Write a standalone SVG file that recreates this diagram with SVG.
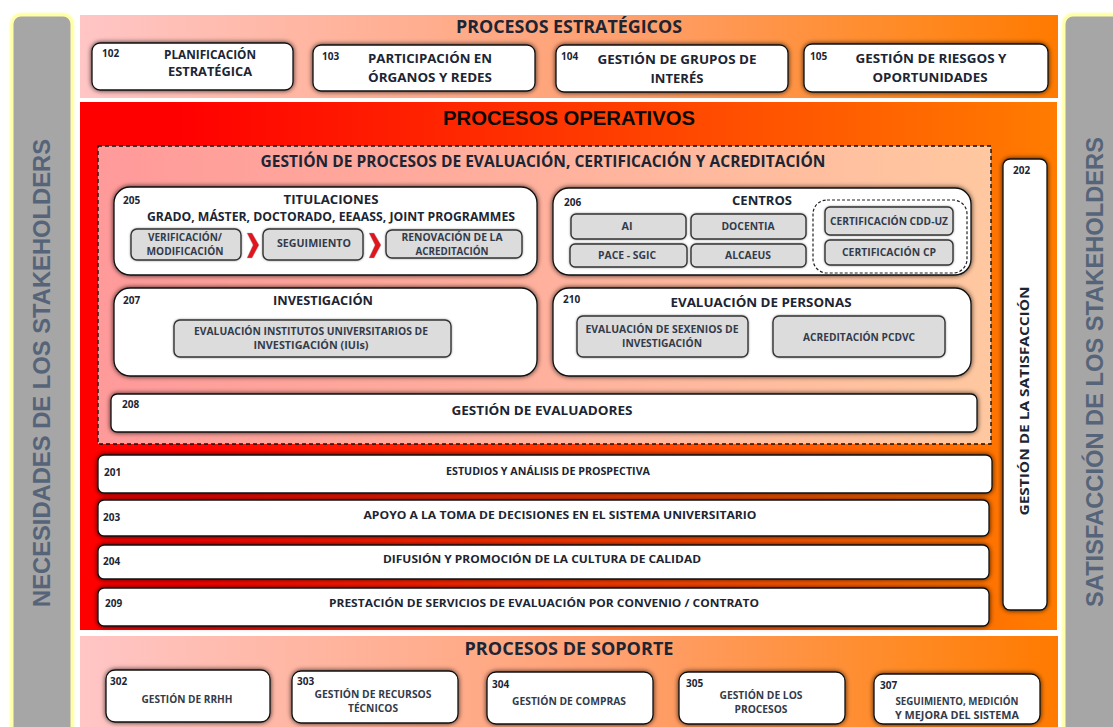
<svg xmlns="http://www.w3.org/2000/svg" width="1113" height="727" viewBox="0 0 1113 727">
<style>
text{font-family:"Open Sans","Noto Sans","Liberation Sans",sans-serif;font-weight:700;fill:#1c2533;text-anchor:middle}
.n{font-size:10px;font-weight:700;text-anchor:start;fill:#1c2533}
.t1{font-size:13px}
.t2{font-size:11px}
.t3{font-size:10px;font-weight:700;fill:#333b4a}
.h{font-size:17px}
.a{font-family:"Liberation Sans",Arial,sans-serif;font-weight:700;fill:#0a0a0a}
.box{fill:#fff;stroke:#111;stroke-width:1.3;filter:url(#sh)}
.sub{fill:#dcdcdc;stroke:#333;stroke-width:1.4;filter:url(#sh2)}
.side{fill:#a6a6a6;stroke:#ffffa8;stroke-width:3;filter:url(#glow)}
.sidet{font-family:"Liberation Sans",Arial,sans-serif;font-weight:700;font-size:24px;fill:#566479}
.chev{fill:#e0161c;stroke:#a8b0c0;stroke-width:.4}
</style>
<defs>
<linearGradient id="gs"><stop offset="0" stop-color="#ffc6c6"/><stop offset=".55" stop-color="#ffa070"/><stop offset=".85" stop-color="#ff8a24"/><stop offset="1" stop-color="#ff7a00"/></linearGradient>
<linearGradient id="go"><stop offset="0" stop-color="#ff0000"/><stop offset=".1" stop-color="#ff0000"/><stop offset="1" stop-color="#ff7c00"/></linearGradient>
<linearGradient id="gi"><stop offset="0" stop-color="#ff9a9a"/><stop offset="1" stop-color="#ffc8a0"/></linearGradient>
<filter id="sh" x="-10%" y="-20%" width="120%" height="140%"><feDropShadow dx="0" dy="0" stdDeviation="2.6" flood-color="#000" flood-opacity=".8"/></filter>
<filter id="sh2" x="-10%" y="-20%" width="120%" height="140%"><feDropShadow dx="0" dy="0" stdDeviation=".8" flood-color="#000" flood-opacity=".4"/></filter>
<filter id="glow" x="-30%" y="-5%" width="160%" height="110%"><feDropShadow dx="0" dy="0" stdDeviation="1.5" flood-color="#ffff80" flood-opacity=".9"/></filter>
</defs>
<rect width="1113" height="727" fill="#fff"/>

<g id="side-left"><rect class="side" x="12" y="15" width="60" height="730" rx="9"/>
<text class="sidet" transform="translate(50,373) rotate(-90)" textLength="468" lengthAdjust="spacingAndGlyphs">NECESIDADES DE LOS STAKEHOLDERS</text></g>
<g id="side-right"><rect class="side" x="1064" y="15" width="60" height="730" rx="9"/>
<text class="sidet" transform="translate(1103,372) rotate(-90)" textLength="470" lengthAdjust="spacingAndGlyphs">SATISFACCIÓN DE LOS STAKEHOLDERS</text></g>

<g id="band-estrategicos"><rect x="80" y="15" width="978" height="83" fill="url(#gs)"/>
<text class="h" x="569" y="33" textLength="226" lengthAdjust="spacingAndGlyphs">PROCESOS ESTRATÉGICOS</text></g>
<g id="band-operativos"><rect x="80" y="102" width="977" height="528" fill="url(#go)"/>
<text class="a" x="569" y="125" font-size="20" textLength="252" lengthAdjust="spacingAndGlyphs">PROCESOS OPERATIVOS</text></g>
<g id="band-soporte"><rect x="80" y="636" width="978" height="91" fill="url(#gs)"/>
<text class="h" x="569" y="655" textLength="209" lengthAdjust="spacingAndGlyphs">PROCESOS DE SOPORTE</text></g>

<g id="n102"><rect class="box" x="92" y="43" width="201" height="47" rx="8"/><text class="n" x="102" y="57">102</text>
<text class="t1" x="210" y="59" textLength="92" lengthAdjust="spacingAndGlyphs">PLANIFICACIÓN</text><text class="t1" x="210" y="76" textLength="84" lengthAdjust="spacingAndGlyphs">ESTRATÉGICA</text></g>
<g id="n103"><rect class="box" x="313" y="45" width="222" height="46" rx="8"/><text class="n" x="322" y="60">103</text>
<text class="t1" x="430" y="63" textLength="124" lengthAdjust="spacingAndGlyphs">PARTICIPACIÓN EN</text><text class="t1" x="430" y="82" textLength="124" lengthAdjust="spacingAndGlyphs">ÓRGANOS Y REDES</text></g>
<g id="n104"><rect class="box" x="556" y="45" width="232" height="47" rx="8"/><text class="n" x="561" y="60">104</text>
<text class="t1" x="677" y="64" textLength="159" lengthAdjust="spacingAndGlyphs">GESTIÓN  DE GRUPOS DE</text><text class="t1" x="677" y="83" textLength="53" lengthAdjust="spacingAndGlyphs">INTERÉS</text></g>
<g id="n105"><rect class="box" x="804" y="44" width="244" height="48" rx="8"/><text class="n" x="810" y="60">105</text>
<text class="t1" x="931" y="63" textLength="151" lengthAdjust="spacingAndGlyphs">GESTIÓN  DE RIESGOS  Y</text><text class="t1" x="930" y="82" textLength="115" lengthAdjust="spacingAndGlyphs">OPORTUNIDADES</text></g>

<g id="gestion-evaluacion"><rect x="98" y="146" width="893" height="298" fill="url(#gi)" stroke="#111" stroke-width="1.4" stroke-dasharray="4 3"/>
<text x="543" y="167" font-size="16" textLength="565" lengthAdjust="spacingAndGlyphs">GESTIÓN DE PROCESOS DE EVALUACIÓN, CERTIFICACIÓN Y ACREDITACIÓN</text></g>

<g id="n205"><rect class="box" x="114" y="187" width="423" height="88" rx="16"/><text class="n" x="123" y="204">205</text>
<text class="t1" x="331" y="204" textLength="95" lengthAdjust="spacingAndGlyphs">TITULACIONES</text>
<text class="t1" x="331" y="221" textLength="368" lengthAdjust="spacingAndGlyphs">GRADO, MÁSTER, DOCTORADO, EEAASS, JOINT PROGRAMMES</text></g>
<g id="n205a"><rect class="sub" x="131" y="229" width="110" height="31" rx="6"/><text class="t3" x="185" y="241" textLength="74" lengthAdjust="spacingAndGlyphs">VERIFICACIÓN/</text><text class="t3" x="185" y="255" textLength="77" lengthAdjust="spacingAndGlyphs">MODIFICACIÓN</text></g>
<g id="n205b"><rect class="sub" x="263" y="229" width="100" height="31" rx="6"/><text class="t3" x="314" y="247" textLength="74" lengthAdjust="spacingAndGlyphs">SEGUIMIENTO</text></g>
<g id="n205c"><rect class="sub" x="386" y="230" width="136" height="28" rx="6"/><text class="t3" x="452" y="241" textLength="101" lengthAdjust="spacingAndGlyphs">RENOVACIÓN  DE LA</text><text class="t3" x="452" y="255" textLength="73" lengthAdjust="spacingAndGlyphs">ACREDITACIÓN</text></g>
<g id="connectors"><path class="chev" d="M247 233h5l7 12-7 13h-5l6-13z"/><path class="chev" d="M369 233h5l7 12-7 13h-5l6-13z"/></g>

<g id="n206"><rect class="box" x="553" y="188" width="418" height="87" rx="16"/><text class="n" x="564" y="206">206</text>
<text class="t1" x="762" y="205" textLength="60" lengthAdjust="spacingAndGlyphs">CENTROS</text>
<rect x="813" y="200" width="154" height="73" rx="14" fill="none" stroke="#222" stroke-width="1.2" stroke-dasharray="3 2"/></g>
<g id="n206a"><rect class="sub" x="571" y="214" width="115" height="25" rx="5"/><text class="t3" x="627" y="230" textLength="11" lengthAdjust="spacingAndGlyphs">AI</text></g>
<g id="n206b"><rect class="sub" x="691" y="214" width="115" height="25" rx="5"/><text class="t3" x="748" y="230" textLength="53" lengthAdjust="spacingAndGlyphs">DOCENTIA</text></g>
<g id="n206c"><rect class="sub" x="570" y="244" width="117" height="23" rx="5"/><text class="t3" x="627" y="259" textLength="58" lengthAdjust="spacingAndGlyphs">PACE - SGIC</text></g>
<g id="n206d"><rect class="sub" x="691" y="244" width="115" height="23" rx="5"/><text class="t3" x="748" y="259" textLength="46" lengthAdjust="spacingAndGlyphs">ALCAEUS</text></g>
<g id="n206e"><rect class="sub" x="825" y="207" width="128" height="28" rx="5"/><text class="t3" x="889" y="225" textLength="118" lengthAdjust="spacingAndGlyphs">CERTIFICACIÓN CDD-UZ</text></g>
<g id="n206f"><rect class="sub" x="825" y="240" width="128" height="25" rx="5"/><text class="t3" x="889" y="256" textLength="94" lengthAdjust="spacingAndGlyphs">CERTIFICACIÓN CP</text></g>

<g id="n207"><rect class="box" x="114" y="288" width="423" height="88" rx="16"/><text class="n" x="123" y="304">207</text>
<text class="t1" x="323" y="305" textLength="100" lengthAdjust="spacingAndGlyphs">INVESTIGACIÓN</text></g>
<g id="n207a"><rect class="sub" x="174" y="320" width="277" height="37" rx="6"/><text class="t3" x="311" y="335" textLength="234" lengthAdjust="spacingAndGlyphs">EVALUACIÓN INSTITUTOS UNIVERSITARIOS DE</text><text class="t3" x="311" y="349" textLength="115" lengthAdjust="spacingAndGlyphs">INVESTIGACIÓN (IUIs)</text></g>
<g id="n210"><rect class="box" x="553" y="288" width="418" height="88" rx="16"/><text class="n" x="563" y="303">210</text>
<text class="t1" x="761" y="307" textLength="181" lengthAdjust="spacingAndGlyphs">EVALUACIÓN DE PERSONAS</text></g>
<g id="n210a"><rect class="sub" x="577" y="316" width="171" height="41" rx="6"/><text class="t3" x="662" y="333" textLength="153" lengthAdjust="spacingAndGlyphs">EVALUACIÓN DE SEXENIOS DE</text><text class="t3" x="662" y="347" textLength="80" lengthAdjust="spacingAndGlyphs">INVESTIGACIÓN</text></g>
<g id="n210b"><rect class="sub" x="773" y="316" width="172" height="41" rx="6"/><text class="t3" x="859" y="341" textLength="112" lengthAdjust="spacingAndGlyphs">ACREDITACIÓN PCDVC</text></g>

<g id="n208"><rect class="box" x="111" y="394" width="866" height="38" rx="6"/><text class="n" x="122" y="408">208</text>
<text class="t1" x="542" y="415" textLength="181" lengthAdjust="spacingAndGlyphs">GESTIÓN  DE EVALUADORES</text></g>
<g id="n201"><rect class="box" x="98" y="455" width="894" height="38" rx="6"/><text class="n" x="104" y="476">201</text>
<text class="t2" x="548" y="475" textLength="204" lengthAdjust="spacingAndGlyphs">ESTUDIOS Y ANÁLISIS DE PROSPECTIVA</text></g>
<g id="n203"><rect class="box" x="98" y="500" width="891" height="36" rx="6"/><text class="n" x="103" y="521">203</text>
<text class="t2" x="560" y="519" textLength="393" lengthAdjust="spacingAndGlyphs">APOYO A LA TOMA DE DECISIONES EN EL SISTEMA UNIVERSITARIO</text></g>
<g id="n204"><rect class="box" x="98" y="545" width="891" height="34" rx="6"/><text class="n" x="103" y="565">204</text>
<text class="t2" x="542" y="563" textLength="318" lengthAdjust="spacingAndGlyphs">DIFUSIÓN Y PROMOCIÓN DE LA CULTURA DE CALIDAD</text></g>
<g id="n209"><rect class="box" x="98" y="588" width="891" height="38" rx="6"/><text class="n" x="105" y="607">209</text>
<text class="t2" x="544" y="607" textLength="430" lengthAdjust="spacingAndGlyphs">PRESTACIÓN DE SERVICIOS DE EVALUACIÓN POR CONVENIO / CONTRATO</text></g>
<g id="n202"><rect class="box" x="1003" y="159" width="44" height="451" rx="7"/><text class="n" x="1013" y="174">202</text>
<text class="t1" transform="translate(1029,401) rotate(-90)" textLength="229" lengthAdjust="spacingAndGlyphs">GESTIÓN  DE LA SATISFACCIÓN</text></g>

<g id="n302"><rect class="box" x="106" y="670" width="164" height="52" rx="9"/><text class="n" x="110" y="685">302</text><text class="t3" x="187" y="703" textLength="91" lengthAdjust="spacingAndGlyphs">GESTIÓN DE RRHH</text></g>
<g id="n303"><rect class="box" x="292" y="671" width="166" height="52" rx="9"/><text class="n" x="297" y="685">303</text><text class="t3" x="373" y="698" textLength="117" lengthAdjust="spacingAndGlyphs">GESTIÓN DE RECURSOS</text><text class="t3" x="373" y="712" textLength="50" lengthAdjust="spacingAndGlyphs">TÉCNICOS</text></g>
<g id="n304"><rect class="box" x="487" y="672" width="166" height="52" rx="9"/><text class="n" x="492" y="688">304</text><text class="t3" x="569" y="705" textLength="114" lengthAdjust="spacingAndGlyphs">GESTIÓN DE COMPRAS</text></g>
<g id="n305"><rect class="box" x="679" y="672" width="166" height="52" rx="9"/><text class="n" x="686" y="687">305</text><text class="t3" x="761" y="699" textLength="83" lengthAdjust="spacingAndGlyphs">GESTIÓN DE LOS</text><text class="t3" x="761" y="713" textLength="53" lengthAdjust="spacingAndGlyphs">PROCESOS</text></g>
<g id="n307"><rect class="box" x="874" y="674" width="166" height="50" rx="9"/><text class="n" x="880" y="689">307</text><text class="t3" x="957" y="705" textLength="123" lengthAdjust="spacingAndGlyphs">SEGUIMIENTO, MEDICIÓN</text><text class="t3" x="957" y="719" textLength="124" lengthAdjust="spacingAndGlyphs">Y MEJORA DEL SISTEMA</text></g>
</svg>
